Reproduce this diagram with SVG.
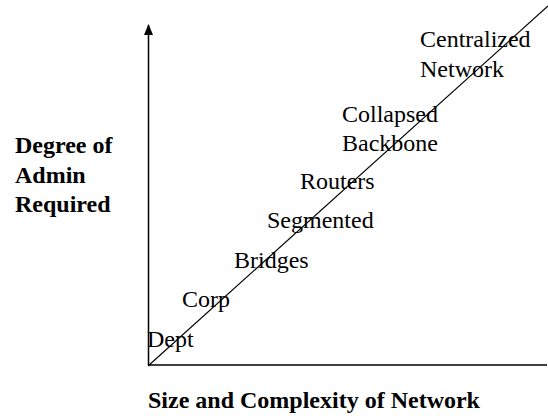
<svg xmlns="http://www.w3.org/2000/svg" width="548" height="416" viewBox="0 0 548 416">
  <style>
    .axis { stroke: #000; stroke-width: 1.5; fill: none; }
    .trend { stroke: #000; stroke-width: 1.2; fill: none; }
    .lbl { font-family: "Liberation Serif", "Times New Roman", serif; font-size: 24px; fill: #000; }
    .ttl { font-family: "Liberation Serif", "Times New Roman", serif; font-size: 24px; font-weight: bold; fill: #000; }
  </style>
  <defs>
    <!-- filled triangle head; points along the path direction -->
    <marker id="arrow" markerWidth="11" markerHeight="10" refX="10" refY="5" orient="auto" markerUnits="userSpaceOnUse" viewBox="0 0 11 10">
      <path d="M0 0.5 L11 5 L0 9.5 Z" fill="#000"/>
    </marker>
  </defs>
  <rect width="548" height="416" fill="#fff"/>

  <!-- axes and trend line -->
  <g id="connectors">
    <path class="axis" d="M148.5 365 L148.5 25" marker-end="url(#arrow)"/>
    <path class="axis" d="M148 365 L547 365"/>
    <path class="trend" d="M148 366 L548 6"/>
  </g>

  <!-- axis titles -->
  <g id="y-title">
    <text class="ttl" x="15" y="153">Degree of</text>
    <text class="ttl" x="15" y="183">Admin</text>
    <text class="ttl" x="15" y="212">Required</text>
  </g>
  <g id="x-title">
    <text class="ttl" x="148" y="408">Size and Complexity of Network</text>
  </g>

  <!-- stages along the trend line -->
  <g id="dept"><text class="lbl" x="147" y="347">Dept</text></g>
  <g id="corp"><text class="lbl" x="182" y="307">Corp</text></g>
  <g id="bridges"><text class="lbl" x="234" y="268">Bridges</text></g>
  <g id="segmented"><text class="lbl" x="267" y="228">Segmented</text></g>
  <g id="routers"><text class="lbl" x="300" y="189">Routers</text></g>
  <g id="collapsed-backbone">
    <text class="lbl" x="342" y="122">Collapsed</text>
    <text class="lbl" x="342" y="151">Backbone</text>
  </g>
  <g id="centralized-network">
    <text class="lbl" x="420" y="47">Centralized</text>
    <text class="lbl" x="420" y="77">Network</text>
  </g>
</svg>
